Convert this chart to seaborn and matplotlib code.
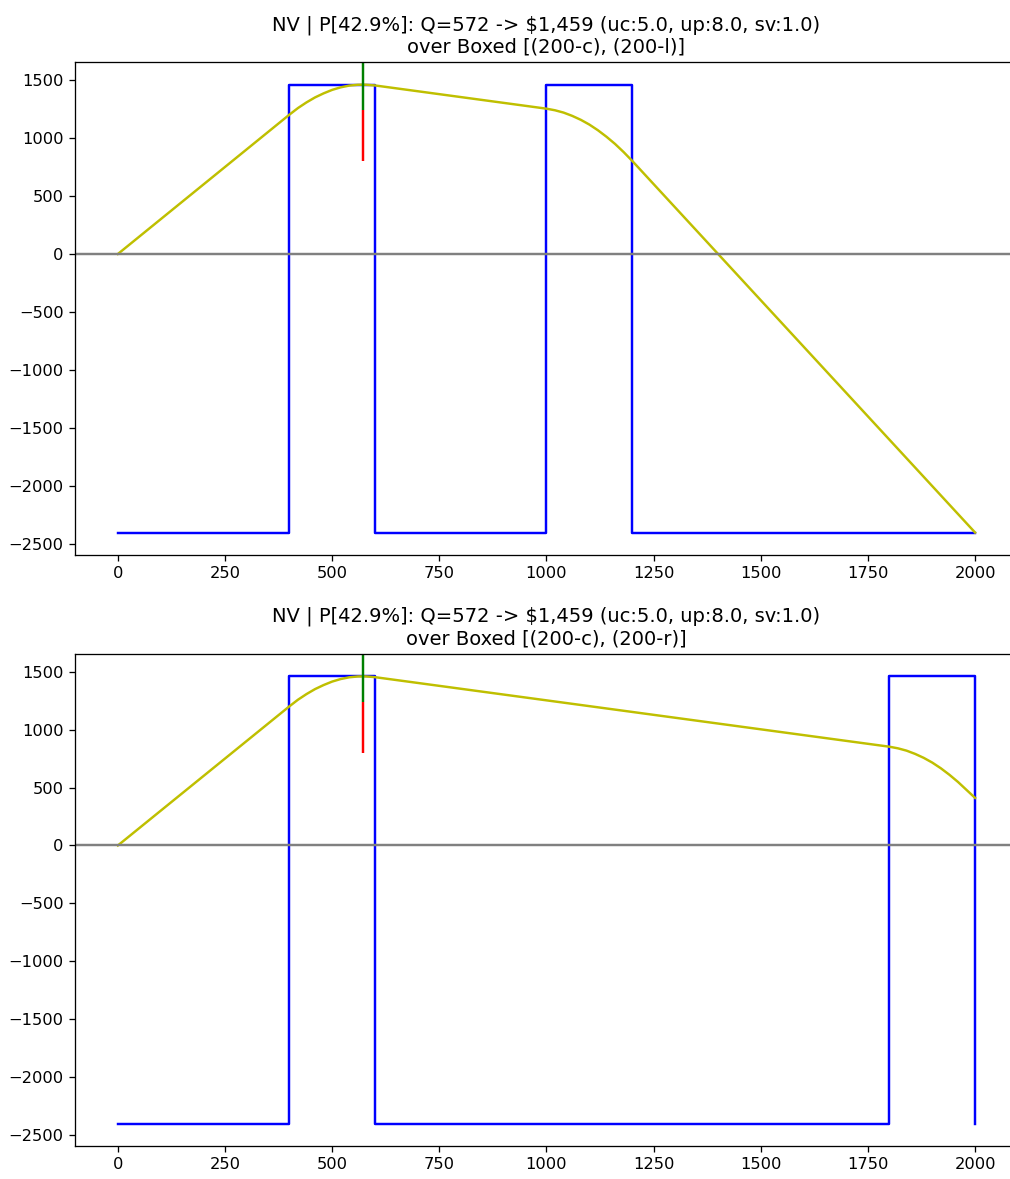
import matplotlib
matplotlib.use("Agg")
import matplotlib.pyplot as plt
import numpy as np
import pandas as pd
import seaborn as sns

# Newsvendor model parameters and optimum
unit_cost = 5.0
unit_price = 8.0
salvage = 1.0
crit_pct = 42.9
q_opt = 572
profit_opt = 1459

# Expected profit vs. order quantity, sampled along the curve
q_top = [0, 400, 420, 440, 460, 480, 500, 520, 540, 560, 572, 580, 600,
         1000, 1020, 1040, 1060, 1080, 1100, 1120, 1140, 1160, 1180, 1200, 2000]
profit_top = [0, 1200, 1257, 1306, 1349, 1384, 1414, 1436, 1451, 1458, 1459, 1458, 1452,
              1252, 1238, 1218, 1190, 1156, 1115, 1066, 1010, 948, 878, 802, -2400]

q_bot = [0, 400, 420, 440, 460, 480, 500, 520, 540, 560, 572, 580, 600,
         1800, 1820, 1840, 1860, 1880, 1900, 1920, 1940, 1960, 1980, 2000]
profit_bot = [0, 1200, 1257, 1306, 1349, 1384, 1414, 1436, 1451, 1458, 1459, 1458, 1452,
              852, 838, 818, 790, 756, 715, 666, 610, 548, 479, 410]

# Demand density boxes, drawn as a step outline
box_low = -2400
box_high = 1459
edges_top = [0, 400, 600, 1000, 1200, 2000]
level_top = [box_low, box_high, box_low, box_high, box_low, box_low]
edges_bot = [0, 400, 600, 1800, 2000]
level_bot = [box_low, box_high, box_low, box_high, box_low]

# Marker segments at the optimal quantity
red_lo, red_hi = 800, 1240

titles = [
    "NV | P[42.9%]: Q=572 -> \\$1,459 (uc:5.0, up:8.0, sv:1.0)\nover Boxed [(200-c), (200-l)]",
    "NV | P[42.9%]: Q=572 -> \\$1,459 (uc:5.0, up:8.0, sv:1.0)\nover Boxed [(200-c), (200-r)]",
]

DPI = 117
fig = plt.figure(figsize=(1011 / DPI, 1179 / DPI), dpi=DPI)
ax_top = fig.add_axes([0.0742, 0.5293, 0.9327, 0.4179])
ax_bot = fig.add_axes([0.0742, 0.0280, 0.9327, 0.4173])

panels = [
    (ax_top, q_top, profit_top, edges_top, level_top, titles[0]),
    (ax_bot, q_bot, profit_bot, edges_bot, level_bot, titles[1]),
]

for ax, qs, prof, edges, levels, title in panels:
    box_df = pd.DataFrame({"q": edges, "level": levels})
    curve_df = pd.DataFrame({"q": qs, "profit": prof})

    sns.lineplot(data=box_df, x="q", y="level", ax=ax, color="b",
                 drawstyle="steps-post", estimator=None, linewidth=1.5)
    sns.lineplot(data=curve_df, x="q", y="profit", ax=ax, color="y",
                 estimator=None, linewidth=1.5)

    lo = min(min(prof), min(levels))
    hi = max(max(prof), max(levels))
    span = hi - lo
    ylim = (lo - 0.05 * span, hi + 0.05 * span)

    ax.axhline(0, color="gray", linewidth=1.5)
    ax.vlines(q_opt, red_lo, red_hi, color="r", linewidth=1.5)
    ax.vlines(q_opt, red_hi, ylim[1] + span, color="g", linewidth=1.5)

    ax.set_xlim(-100, 2100)
    ax.set_ylim(*ylim)
    ax.set_xticks([0, 250, 500, 750, 1000, 1250, 1500, 1750, 2000])
    ax.set_xlabel("")
    ax.set_ylabel("")
    ax.set_title(title, fontsize=12)

fig.savefig("out.png", dpi=DPI)
